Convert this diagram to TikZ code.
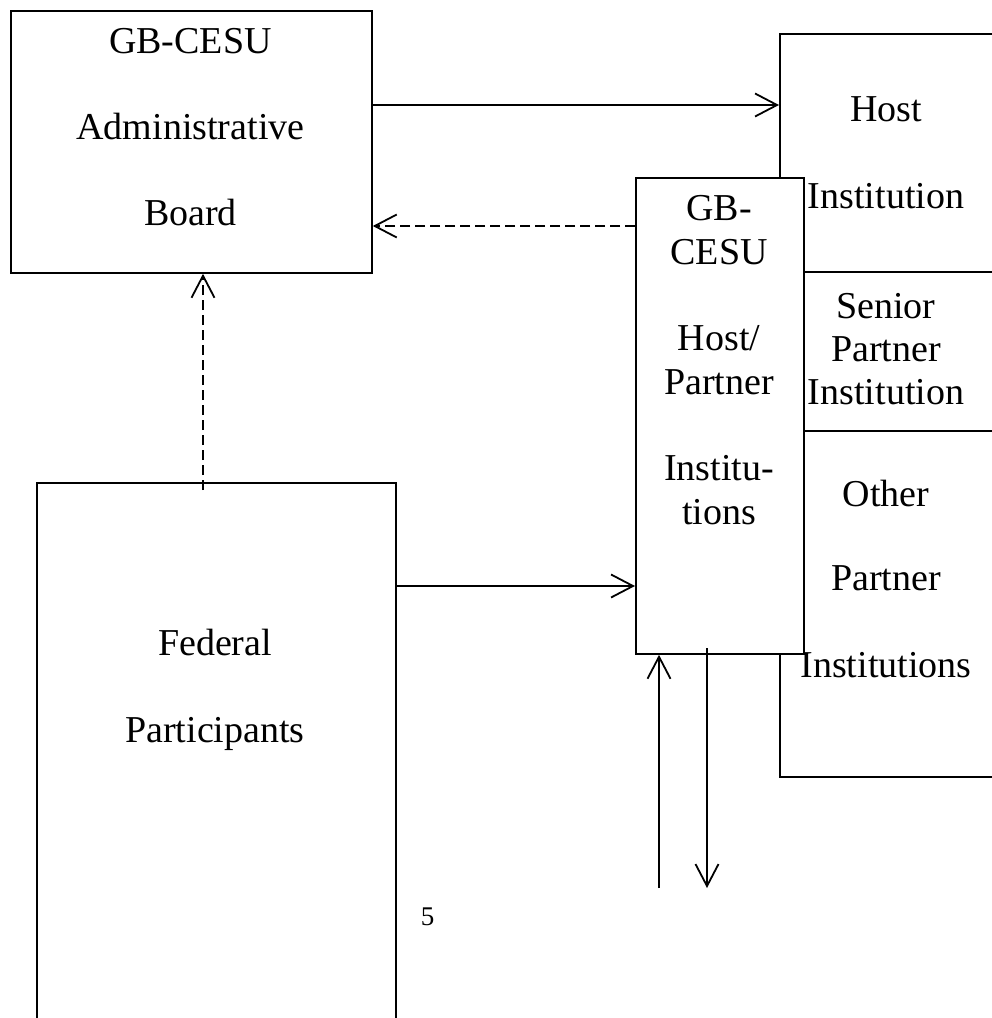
\documentclass[tikz,border=0pt]{standalone}
\usepackage{fontspec}
\setmainfont{Liberation Serif}
\usetikzlibrary{arrows.meta,positioning}
\tikzset{
  unit/.style   = {draw, line width=1.8pt, fill=white, inner sep=0pt, anchor=north west},
  txt/.style    = {anchor=base, inner sep=0pt, font=\fontsize{38}{43}\selectfont},
  flow/.style   = {->, line width=1.8pt},
  report/.style = {flow, dash pattern=on 10pt off 5pt}
}

\begin{document}
\begin{tikzpicture}[x=1pt, y=-1pt,
  >={Straight Barb[length=22pt,width=23pt,line width=1.8pt]}]

\useasboundingbox (0,0) rectangle (992,1018);
\clip (0,0) rectangle (992,1018);

% administrative board, top left
\node[unit, minimum width=361pt, minimum height=262pt] (board) at (10,10) {};
\node[txt] (b1) at (190.5,53)  {GB-CESU};
\node[txt] (b2) at (190.5,139) {Administrative};
\node[txt] (b3) at (190.5,225) {Board};

% host and partner institutions, runs off the right edge
\node[unit, minimum width=240pt, minimum height=743pt] (inst) at (779,33) {};
\draw[line width=1.8pt] (779,272) -- (1019,272);
\draw[line width=1.8pt] (779,431) -- (1019,431);
\node[txt] (h1) at (886,121) {Host};
\node[txt] (h2) at (886,208) {Institution};
\node[txt] (s1) at (886,318) {Senior};
\node[txt] (s2) at (886,361) {Partner};
\node[txt] (s3) at (886,404) {Institution};
\node[txt] (o1) at (886,506) {Other};
\node[txt] (o2) at (886,590) {Partner};
\node[txt] (o3) at (886,677) {Institutions};

% GB-CESU host/partner column, on top of the institutions
\node[unit, minimum width=168pt, minimum height=476pt] (gb) at (635,177) {};
\node[txt] (g1) at (719,220) {GB-};
\node[txt] (g2) at (719,264) {CESU};
\node[txt] (g3) at (719,350) {Host/};
\node[txt] (g4) at (719,394) {Partner};
\node[txt] (g5) at (719,480) {Institu-};
\node[txt] (g6) at (719,524) {tions};

% federal participants, runs off the bottom
\node[unit, minimum width=359pt, minimum height=600pt] (fed) at (36,482) {};
\node[txt] (f1) at (215,655) {Federal};
\node[txt] (f2) at (215,742) {Participants};

\node[txt, font=\fontsize{27}{32}\selectfont] (page) at (427.5,925) {5};

% connectors
\coordinate (fedtop) at (203,490);
\coordinate (inA)  at (659,888);
\coordinate (outA) at (707,648);
\coordinate (outB) at (707,888);

\draw[flow]   (board.east |- 0,105) -- (inst.west |- 0,105);
\draw[report] (gb.west |- 0,226) -- (board.east |- 0,226);
\draw[report] (fedtop) -- (fedtop |- board.south);
\draw[flow]   (fed.east |- 0,586) -- (gb.west |- 0,586);
\draw[flow]   (inA) -- (inA |- gb.south);
\draw[flow]   (outA) -- (outB);

\end{tikzpicture}
\end{document}
